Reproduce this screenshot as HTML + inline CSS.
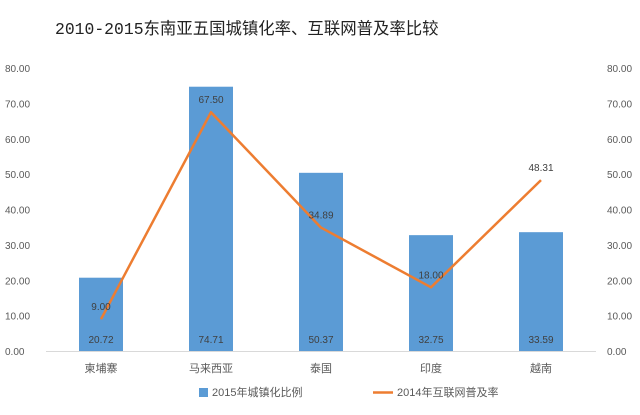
<!DOCTYPE html>
<html><head><meta charset="utf-8"><style>
body{margin:0;background:#fff;}
svg{display:block;font-family:"Liberation Sans","Noto Sans CJK SC",sans-serif;}
</style></head><body>
<svg id="chart" width="640" height="415" viewBox="0 0 640 415">
<text x="55" y="34" font-size="16.4" fill="#222" font-family="'Liberation Mono','Noto Sans CJK SC',monospace">2010-2015东南亚五国城镇化率、互联网普及率比较</text>
<g id="axes"></g><g id="bars"></g><g id="line"></g>
<g>
<rect x="199" y="388" width="9" height="9" fill="#5b9bd5"/>
<text x="212" y="396" font-size="11" fill="#595959">2015年城镇化比例</text>
<line x1="373" y1="392.5" x2="393" y2="392.5" stroke="#ed7d31" stroke-width="2.5"/>
<text x="397" y="396" font-size="11" fill="#595959">2014年互联网普及率</text>
</g>
</svg>
<script>
const categories=["柬埔寨","马来西亚","泰国","印度","越南"];
const urbanization=[20.72,74.71,50.37,32.75,33.59];
const internet=[9.00,67.50,34.89,18.00,48.31];
const ticks=[0,10,20,30,40,50,60,70,80];
const NS="http://www.w3.org/2000/svg";
const x0=46,x1=596,yBase=351,yTop=68,maxV=80;
const band=(x1-x0)/categories.length;
const xc=i=>x0+band*(i+0.5);
const y=v=>yBase-(v/maxV)*(yBase-yTop);
function mk(tag,attrs,parent){const e=document.createElementNS(NS,tag);for(const k in attrs)e.setAttribute(k,attrs[k]);parent.appendChild(e);return e;}
const axes=document.getElementById('axes'),bars=document.getElementById('bars'),line=document.getElementById('line');
ticks.forEach(t=>{
 const l=mk('text',{x:5,y:y(t)+4,'font-size':10,fill:'#595959'},axes);l.textContent=t.toFixed(2);
 
 
 const r=mk('text',{x:607,y:y(t)+4,'font-size':10,fill:'#595959'},axes);r.textContent=t.toFixed(2);
 
 
});
const ax=mk('line',{x1:x0,x2:x1,y1:yBase+0.5,y2:yBase+0.5,stroke:'#d9d9d9'},axes);


categories.forEach((c,i)=>{
 const t=mk('text',{x:xc(i),y:372,'font-size':11,fill:'#595959','text-anchor':'middle'},axes);t.textContent=c;
 
 
 const bw=44;
 const b=mk('rect',{x:xc(i)-bw/2,y:y(urbanization[i]),width:bw,height:yBase-y(urbanization[i]),fill:'#5b9bd5'},bars);
 
 
 const bl=mk('text',{x:xc(i),y:343,'font-size':10,fill:'#404040','text-anchor':'middle'},bars);bl.textContent=urbanization[i].toFixed(2);
 
 
});
const pts=internet.map((v,i)=>xc(i)+','+y(v)).join(' ');
const pl=mk('polyline',{points:pts,fill:'none',stroke:'#ed7d31','stroke-width':2.5,'stroke-linejoin':'round'},line);


internet.forEach((v,i)=>{
 const t=mk('text',{x:xc(i),y:y(v)-9,'font-size':10,fill:'#404040','text-anchor':'middle'},line);t.textContent=v.toFixed(2);
 
 
});
</script>
</body></html>
